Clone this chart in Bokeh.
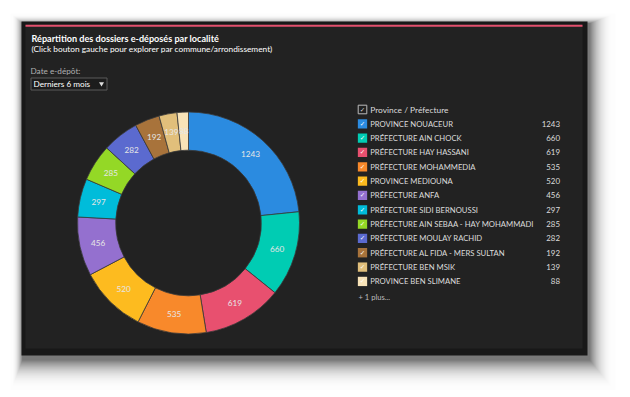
import numpy as np
from bokeh.plotting import figure
from bokeh.models import ColumnDataSource, Range1d
from bokeh.embed import file_html
from bokeh.resources import INLINE
from bokeh.core.properties import value

# ---------------- data ----------------
title = "Répartition des dossiers e-déposés par localité"
subtitle = "(Click bouton gauche pour explorer par commune/arrondissement)"
filter_label = "Date e-dépôt:"
filter_value = "Derniers 6 mois"
legend_title = "Province / Préfecture"
more_label = "+ 1 plus..."

localites = [
    "PROVINCE NOUACEUR",
    "PRÉFECTURE AIN CHOCK",
    "PRÉFECTURE HAY HASSANI",
    "PRÉFECTURE MOHAMMEDIA",
    "PROVINCE MEDIOUNA",
    "PRÉFECTURE ANFA",
    "PRÉFECTURE SIDI BERNOUSSI",
    "PRÉFECTURE AIN SEBAA - HAY MOHAMMADI",
    "PRÉFECTURE MOULAY RACHID",
    "PRÉFECTURE AL FIDA - MERS SULTAN",
    "PRÉFECTURE BEN MSIK",
    "PROVINCE BEN SLIMANE",
]
dossiers = [1243, 660, 619, 535, 520, 456, 297, 285, 282, 192, 139, 88]
couleurs = [
    "#2B8BE0", "#00CCB3", "#E8506F", "#F8892B", "#FDBB1F", "#9470CF",
    "#00BCDA", "#94D826", "#5B6ACF", "#A8733B", "#E1BF7B", "#F8E3B8",
]

# ---------------- figure (page-pixel coordinates) ----------------
W, H = 624, 390
p = figure(width=W, height=H, output_backend="svg", toolbar_location=None,
           x_range=Range1d(0, W), y_range=Range1d(0, H),
           x_axis_location=None, y_axis_location=None, min_border=0)
p.grid.visible = False
p.outline_line_color = None
p.background_fill_color = "white"
p.border_fill_color = "white"


def Y(y):
    return H - y


FONT = value("Lato")

# soft shadow (many faint layers; smooth fall-off to zero)
L, R, T, B = 21, 587, 21, 355
N = 70
k = np.arange(N)
e = 1 - (k / N) ** 0.4
p.quad(left=L + 1 - 12 * e, right=R + 2 + 26 * e, top=Y(T + 2 - 10 * e), bottom=Y(B + 4 + 32 * e),
       fill_color="black", fill_alpha=0.0085, line_color=None)

# panel
p.quad(left=L, right=R, top=Y(T), bottom=Y(B), fill_color="#181818", line_color=None)
p.quad(left=25, right=582, top=Y(24), bottom=Y(348), fill_color="#222222", line_color=None)
p.quad(left=25, right=582, top=Y(24.2), bottom=Y(26.2), fill_color="#E3506E", line_color=None)

# titles
p.text(x=[31], y=[Y(38)], text=[title], text_font=FONT, text_font_size="9.1px",
       text_font_style="bold", text_color="#ffffff", text_baseline="middle")
p.text(x=[31], y=[Y(48.5)], text=[subtitle], text_font=FONT, text_font_size="8.3px",
       text_color="#ffffff", text_baseline="middle")
p.text(x=[30], y=[Y(70)], text=[filter_label], text_font=FONT, text_font_size="8.2px",
       text_color="#b0b0b0", text_baseline="middle")

# dropdown
p.quad(left=30.5, right=106.5, top=Y(77.5), bottom=Y(89.5), fill_color="#1c1c1c",
       line_color="#5a5a5a", line_width=1)
p.text(x=[33], y=[Y(83.5)], text=[filter_value], text_font=FONT, text_font_size="8.2px",
       text_color="#ffffff", text_baseline="middle")
p.scatter(x=[101], y=[Y(83.2)], marker="inverted_triangle", size=5, fill_color="#dddddd",
          line_color=None)

# donut
cx, cy = 188, Y(222.5)
r_in, r_out = 72.8, 111
vals = np.array(dossiers, dtype=float)
frac = vals / vals.sum()
cum_end = np.cumsum(frac)
cum_start = cum_end - frac
start = np.pi / 2 - 2 * np.pi * cum_end
end = np.pi / 2 - 2 * np.pi * cum_start
mid = (start + end) / 2
rm = (r_in + r_out) / 2 + 0.5
src = ColumnDataSource(dict(start=start, end=end, color=couleurs,
                            lx=cx + rm * np.cos(mid), ly=cy + rm * np.sin(mid),
                            lab=[str(v) for v in dossiers]))
p.annular_wedge(x=cx, y=cy, inner_radius=r_in, outer_radius=r_out,
                start_angle="start", end_angle="end", fill_color="color",
                line_color="#3a3a3a", line_width=0.8, source=src)
p.text(x="lx", y="ly", text="lab", source=src, text_font=FONT, text_font_size="8.2px",
       text_color="#e6e6e6", text_align="center", text_baseline="middle")

# legend
y0, step = 123.3, 14.33
ys = [Y(y0 + step * i) for i in range(len(localites))]
leg = ColumnDataSource(dict(y=ys, name=localites, v=[str(v) for v in dossiers], color=couleurs))
p.rect(x=362, y="y", width=9.3, height=9.3, fill_color="color", line_color=None, source=leg)
p.text(x=362, y="y", text=value("✓"), source=leg, text_font=value("DejaVu Sans"),
       text_font_size="6.5px", text_color="white", text_align="center", text_baseline="middle")
p.text(x=369.7, y="y", text="name", source=leg, text_font=FONT, text_font_size="7.7px",
       text_color="#dcdcdc", text_baseline="middle")
p.text(x=559.5, y="y", text="v", source=leg, text_font=FONT, text_font_size="7.9px",
       text_color="#dcdcdc", text_align="right", text_baseline="middle")

# legend header
p.rect(x=[362], y=[Y(109)], width=8.6, height=8.6, fill_color=None, line_color="#bbbbbb",
       line_width=1)
p.text(x=[362], y=[Y(109)], text=["✓"], text_font=value("DejaVu Sans"), text_font_size="6.5px",
       text_color="#dddddd", text_align="center", text_baseline="middle")
p.text(x=[369.7], y=[Y(109)], text=[legend_title], text_font=FONT, text_font_size="8.4px",
       text_color="#dcdcdc", text_baseline="middle")
p.text(x=[358], y=[Y(296.7)], text=[more_label], text_font=FONT, text_font_size="7.6px",
       text_color="#bdbdbd", text_baseline="middle")

open("out.html", "w").write(file_html(p, INLINE))
